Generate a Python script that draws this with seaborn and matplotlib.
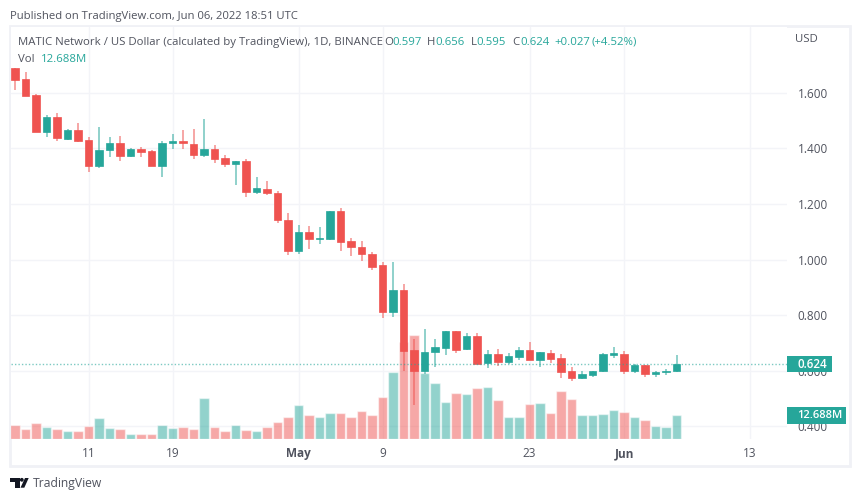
import seaborn as sns
import matplotlib.pyplot as plt
import pandas as pd
from matplotlib.patches import Rectangle, Polygon, Circle
from matplotlib.transforms import Affine2D

# Datos (MATICUSD diario, 4 abr - 6 jun 2022)
opens = [1.689, 1.649, 1.593, 1.458, 1.512, 1.433, 1.466, 1.430, 1.338, 1.395, 1.420, 1.372, 1.398, 1.390, 1.337, 1.420,
         1.428, 1.417, 1.377, 1.398, 1.365, 1.344, 1.356, 1.244, 1.255, 1.239, 1.142, 1.032, 1.100, 1.074, 1.074, 1.174,
         1.066, 1.045, 1.020, 0.979, 0.810, 0.889, 0.675, 0.599, 0.666, 0.682, 0.741, 0.676, 0.725, 0.626, 0.659, 0.631,
         0.649, 0.675, 0.639, 0.662, 0.645, 0.598, 0.573, 0.584, 0.598, 0.657, 0.660, 0.598, 0.620, 0.588, 0.593, 0.597]
highs = [1.691, 1.677, 1.595, 1.520, 1.529, 1.470, 1.491, 1.440, 1.476, 1.441, 1.445, 1.401, 1.404, 1.394, 1.426, 1.451,
         1.468, 1.470, 1.506, 1.412, 1.376, 1.354, 1.361, 1.296, 1.282, 1.248, 1.168, 1.123, 1.121, 1.118, 1.174, 1.187,
         1.076, 1.068, 1.028, 0.992, 0.992, 0.912, 0.714, 0.751, 0.712, 0.742, 0.742, 0.736, 0.736, 0.673, 0.677, 0.662,
         0.685, 0.702, 0.668, 0.674, 0.658, 0.613, 0.598, 0.600, 0.662, 0.685, 0.669, 0.623, 0.620, 0.600, 0.604, 0.656]
lows = [1.611, 1.589, 1.458, 1.443, 1.428, 1.431, 1.425, 1.316, 1.331, 1.368, 1.355, 1.369, 1.369, 1.336, 1.296, 1.397,
        1.399, 1.363, 1.370, 1.347, 1.332, 1.268, 1.226, 1.237, 1.234, 1.133, 1.015, 1.021, 1.038, 1.057, 1.070, 1.032,
        1.013, 0.996, 0.962, 0.790, 0.793, 0.599, 0.476, 0.587, 0.614, 0.656, 0.662, 0.674, 0.623, 0.609, 0.616, 0.623,
        0.639, 0.638, 0.612, 0.628, 0.573, 0.563, 0.569, 0.575, 0.596, 0.646, 0.587, 0.590, 0.575, 0.575, 0.585, 0.595]
closes = [1.647, 1.590, 1.458, 1.515, 1.437, 1.466, 1.427, 1.337, 1.395, 1.420, 1.374, 1.398, 1.388, 1.338, 1.420, 1.428,
          1.419, 1.378, 1.398, 1.361, 1.344, 1.354, 1.244, 1.259, 1.239, 1.142, 1.032, 1.100, 1.074, 1.076, 1.174, 1.063,
          1.044, 1.019, 0.974, 0.810, 0.889, 0.670, 0.599, 0.666, 0.684, 0.741, 0.674, 0.725, 0.623, 0.659, 0.631, 0.651,
          0.675, 0.639, 0.666, 0.641, 0.595, 0.573, 0.586, 0.600, 0.658, 0.662, 0.598, 0.620, 0.587, 0.595, 0.598, 0.624]
volumes = [7.50, 5.35, 8.56, 6.26, 5.35, 4.12, 4.12, 6.96, 11.07, 5.72, 5.35, 2.84, 2.84, 2.84, 7.49, 5.72,
           6.26, 5.35, 21.77, 6.58, 4.12, 7.49, 4.98, 4.44, 6.58, 9.10, 11.93, 18.19, 12.84, 11.61, 13.91, 14.07,
           11.93, 14.82, 12.84, 22.63, 35.85, 51.90, 55.48, 35.15, 29.80, 19.80, 24.45, 23.91, 27.29, 27.66, 20.70, 11.93,
           11.61, 18.56, 19.42, 13.75, 25.68, 21.40, 12.68, 12.68, 13.21, 15.35, 14.45, 11.93, 10.17, 6.96, 6.58, 12.688]
price_ticks = [0.4, 0.6, 0.8, 1.0, 1.2, 1.4, 1.6]
date_ticks = [7, 15, 27, 35, 49, 58, 70]
date_labels = ["11", "19", "May", "9", "23", "Jun", "13"]

GREEN = "#26a69a"
RED = "#ef5350"
TEXT = "#50535e"
GRID = "#f3f4f8"
FONT = "Open Sans"

sns.set_theme(style="white")
plt.rcParams["font.family"] = FONT

df = pd.DataFrame({"day": range(len(opens)), "open": opens, "high": highs, "low": lows, "close": closes, "volume": volumes})
df["direction"] = ["up" if c >= o else "down" for o, c in zip(df["open"], df["close"])]
df["color"] = df["direction"].map({"up": GREEN, "down": RED})

fig = plt.figure(figsize=(8.6, 5), dpi=100, facecolor="white")
to_px = Affine2D().scale(1 / 860, -1 / 500).translate(0, 1) + fig.transFigure

# Marco exterior
fig.add_artist(Rectangle((10, 26), 839.5, 440, transform=to_px, fill=False, edgecolor="#f0f1f6", linewidth=2))

# Capa de abajo: ejes de precio y cuadricula
rect = [10.5 / 860, 1 - 439 / 500, 776 / 860, 412 / 500]
ax = fig.add_axes(rect, zorder=1)
xlim = (-0.4286, 73.476)
ylim = (0.3532, 1.8378)
ax.set_xlim(xlim)
ax.set_ylim(ylim)
ax.yaxis.tick_right()
ax.set_yticks(price_ticks)
ax.set_yticklabels([f"{p:.3f}" for p in price_ticks], fontsize=8.5, color=TEXT)
ax.set_xticks(date_ticks)
ax.set_xticklabels(date_labels, fontsize=8.5, color=TEXT)
for lab in ax.get_xticklabels():
    if lab.get_text() in ("May", "Jun"):
        lab.set_fontweight("bold")
ax.tick_params(axis="y", length=0, pad=8)
ax.tick_params(axis="x", length=0, pad=6)
ax.grid(True, color=GRID, linewidth=1)
sns.despine(ax=ax, left=True, right=True, top=True, bottom=True)

# Volumen
ax_vol = fig.add_axes(rect, zorder=2)
ax_vol.patch.set_visible(False)
sns.barplot(data=df, x="day", y="volume", hue="direction", palette={"up": GREEN, "down": RED},
            native_scale=True, dodge=False, width=0.9, alpha=0.5, saturation=1, errorbar=None,
            legend=False, ax=ax_vol)
ax_vol.set_xlim(xlim)
ax_vol.set_ylim(0, 220.4)
ax_vol.axis("off")

# Velas
ax_c = fig.add_axes(rect, zorder=3)
ax_c.patch.set_visible(False)
ax_c.vlines(df["day"], df["low"], df["high"], colors=df["color"], linewidth=1.1, alpha=0.65)
ax_c.bar(df["day"], (df["close"] - df["open"]).abs(), bottom=df[["open", "close"]].min(axis=1),
         width=0.76, color=df["color"], edgecolor=df["color"], linewidth=0.5)
ax_c.axhline(closes[-1], color=GREEN, linewidth=1, linestyle=(0, (1, 1.5)), alpha=0.6)
ax_c.set_xlim(xlim)
ax_c.set_ylim(ylim)
ax_c.axis("off")


def label(x, y, s, color=TEXT, size=8.2, **kw):
    fig.text(x, y, s, transform=to_px, color=color, fontsize=size, va="center", zorder=10, **kw)


# Etiquetas de ultimo precio y volumen
fig.add_artist(Rectangle((787, 355.5), 45, 16.5, transform=to_px, color=GREEN, linewidth=0, zorder=9))
fig.add_artist(Rectangle((787, 407), 59, 16.5, transform=to_px, color=GREEN, linewidth=0, zorder=9))
label(797, 364.5, "0.624", color="white", size=8.4, fontweight="semibold")
label(797, 416, "12.688M", color="white", size=8, fontweight="semibold")
label(795, 39.5, "USD")

# Cabecera
label(10, 16.5, "Published on TradingView.com, Jun 06, 2022 18:51 UTC", size=8.07)
label(17.5, 42.5, "MATIC Network / US Dollar (calculated by TradingView), 1D, BINANCE")
label(18, 59.5, "Vol")
label(41, 59.5, "12.688M", color=GREEN)
for x, s in [(384, "O"), (427, "H"), (471, "L"), (512, "C")]:
    label(x, 42.5, s)
for x, s in [(392, "0.597"), (435, "0.656"), (476, "0.595"), (520, "0.624"), (554, "+0.027"), (592, "(+4.52%)")]:
    label(x, 42.5, s, color=GREEN)

# Logo y pie
DARK = "#131722"
fig.add_artist(Polygon([(10, 478), (19.5, 478), (19.5, 487.7), (14.5, 487.7), (14.5, 481.5), (10, 481.5)],
                       closed=True, transform=to_px, color=DARK, linewidth=0))
fig.add_artist(Polygon([(25, 478), (28.7, 478), (24.3, 487.7), (20.5, 487.7)],
                       closed=True, transform=to_px, color=DARK, linewidth=0))
fig.add_artist(Circle((21.8, 479.8), 1.9, transform=to_px, color=DARK, linewidth=0))
label(33, 484, "TradingView", size=8.7)

fig.savefig("out.png", dpi=100)
